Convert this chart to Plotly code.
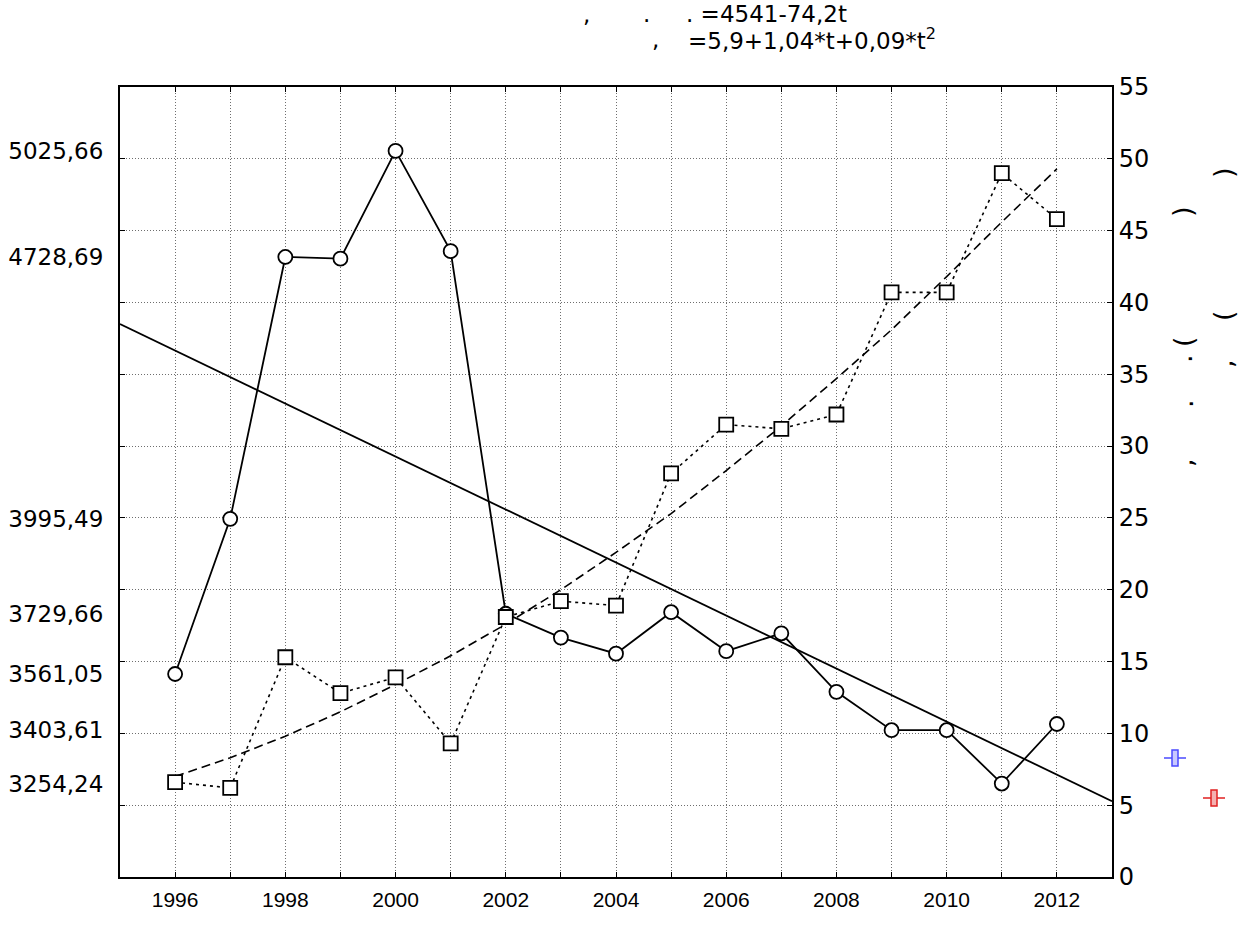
import plotly.graph_objects as go

# Data
years = list(range(1996, 2013))
year_labels = ["1996", "", "1998", "", "2000", "", "2002", "", "2004", "",
               "2006", "", "2008", "", "2010", "", "2012"]

# left axis series (circles, solid line)
circles = [3561.05, 3995.49, 4728.69, 4724, 5025.66, 4745, 3729.66, 3663, 3618,
           3734, 3625, 3675, 3511, 3403.61, 3403.61, 3254.24, 3421]
# right axis series (squares, dotted line)
squares = [6.6, 6.2, 15.3, 12.8, 13.9, 9.3, 18.1, 19.2, 18.9, 28.1, 31.5, 31.2,
           32.2, 40.7, 40.7, 49.0, 45.8]

# linear trend y=4541-74,2t, read at the plot edges
lin_x = [1995, 2013]
lin_y = [4541, 3205]

# quadratic trend y=5,9+1,04*t+0,09*t^2, read per year
quad_y = [7.0, 8.3, 9.8, 11.5, 13.4, 15.4, 17.6, 20.0, 22.6, 25.3, 28.3, 31.4,
          34.7, 38.1, 41.8, 45.6, 49.3]

left_ticks = [5025.66, 4728.69, 3995.49, 3729.66, 3561.05, 3403.61, 3254.24]
left_text = ["5025,66", "4728,69", "3995,49", "3729,66", "3561,05", "3403,61", "3254,24"]
right_ticks = list(range(0, 60, 5))

ARIAL = "Liberation Sans, Arial, sans-serif"
WIDE = "DejaVu Sans, sans-serif"

# plot area in page pixels
PX0, PX1, PY0, PY1 = 120, 1112, 87, 877


def px(x):
    return (x - PX0) / (PX1 - PX0)


def py(y):
    return (PY1 - y) / (PY1 - PY0)


fig = go.Figure()

# left scale: circles and the linear trend
fig.add_trace(go.Scatter(x=lin_x, y=lin_y, yaxis="y", mode="lines",
                         line=dict(color="black", width=1.8), showlegend=False))
fig.add_trace(go.Scatter(x=years, y=circles, yaxis="y", mode="lines+markers",
                         line=dict(color="black", width=1.8),
                         marker=dict(symbol="circle", size=14, color="white",
                                     line=dict(color="black", width=1.8)),
                         showlegend=False))
# right scale: quadratic trend and squares
fig.add_trace(go.Scatter(x=years, y=quad_y, yaxis="y2", mode="lines",
                         line=dict(color="black", width=1.6, dash="9px,5px"), showlegend=False))
fig.add_trace(go.Scatter(x=years, y=squares, yaxis="y3", mode="lines+markers",
                         line=dict(color="black", width=1.6, dash="3px,4px"),
                         marker=dict(symbol="square", size=14, color="white",
                                     line=dict(color="black", width=1.8)),
                         showlegend=False))

grid = dict(showgrid=True, gridcolor="#6e6e6e", gridwidth=1, griddash="1px,2px")

fig.update_layout(
    width=1247, height=925,
    margin=dict(l=120, r=135, t=87, b=48),
    paper_bgcolor="white", plot_bgcolor="white",
    font=dict(family=ARIAL, size=19, color="black"),
    xaxis=dict(range=[1995, 2013], tickvals=years, ticktext=year_labels,
               ticks="inside", ticklen=5, tickcolor="black", mirror="ticks",
               showline=True, linecolor="black", linewidth=2, zeroline=False,
               automargin=False, tickfont=dict(family=ARIAL, size=21),
               ticklabelstandoff=3, **grid),
    yaxis=dict(range=[2992.6, 5204.6], tickvals=left_ticks, ticktext=left_text,
               side="left", ticks="", showgrid=False, automargin=False,
               showline=True, linecolor="black", linewidth=2, zeroline=False,
               ticklabelstandoff=10, tickfont=dict(family=WIDE, size=23)),
    yaxis2=dict(range=[0, 55], tickvals=right_ticks, overlaying="y", side="right",
                ticks="inside", ticklen=5, tickcolor="black", automargin=False,
                showline=True, linecolor="black", linewidth=2, zeroline=False,
                tickfont=dict(family=WIDE, size=24), **grid),
    yaxis3=dict(range=[0, 55], tickvals=right_ticks, overlaying="y", side="left",
                showticklabels=False, ticks="inside", ticklen=5, tickcolor="black",
                automargin=False, showgrid=False, showline=False, zeroline=False),
)

# title lines (only the glyphs that show in the reference)
title_bits = [
    (581, 14, ","), (641, 14, "."), (684, 14, ". =4541-74,2t"),
    (650, 39, ","), (686, 39, "=5,9+1,04*t+0,09*t<sup>2</sup>"),
]
for x, y, t in title_bits:
    fig.add_annotation(x=px(x), y=py(y), xref="paper", yref="paper",
                       text=t, showarrow=False, xanchor="left", yanchor="middle",
                       font=dict(family=WIDE, size=23))

# rotated axis-title remnants at the right
side_bits = [
    (1183, 212, ")"), (1183, 342, "("), (1183, 359, "."), (1183, 404, "."), (1183, 463, ","),
    (1223, 173, ")"), (1223, 316, "("), (1223, 364, ","),
]
for x, y, t in side_bits:
    fig.add_annotation(x=px(x), y=py(y), xref="paper", yref="paper",
                       text=t, showarrow=False, textangle=-90,
                       xanchor="center", yanchor="middle",
                       font=dict(family=WIDE, size=27))

# small legend keys
for cx, cy, col, fill in [(1175, 758, "#4a4aff", "#c8c8ff"), (1214, 798, "#e02020", "#f4b0b0")]:
    fig.add_shape(type="line", xref="paper", yref="paper",
                  x0=px(cx - 11), x1=px(cx + 11), y0=py(cy), y1=py(cy),
                  line=dict(color=col, width=1.5))
    fig.add_shape(type="rect", xref="paper", yref="paper",
                  x0=px(cx - 3), x1=px(cx + 3), y0=py(cy + 8), y1=py(cy - 8),
                  line=dict(color=col, width=1.5), fillcolor=fill)

# drop the default 8px body margin so the figure sits at the page corner
fig.write_html("out.html", config={"displayModeBar": False},
               post_script="document.body.style.margin='0';")
